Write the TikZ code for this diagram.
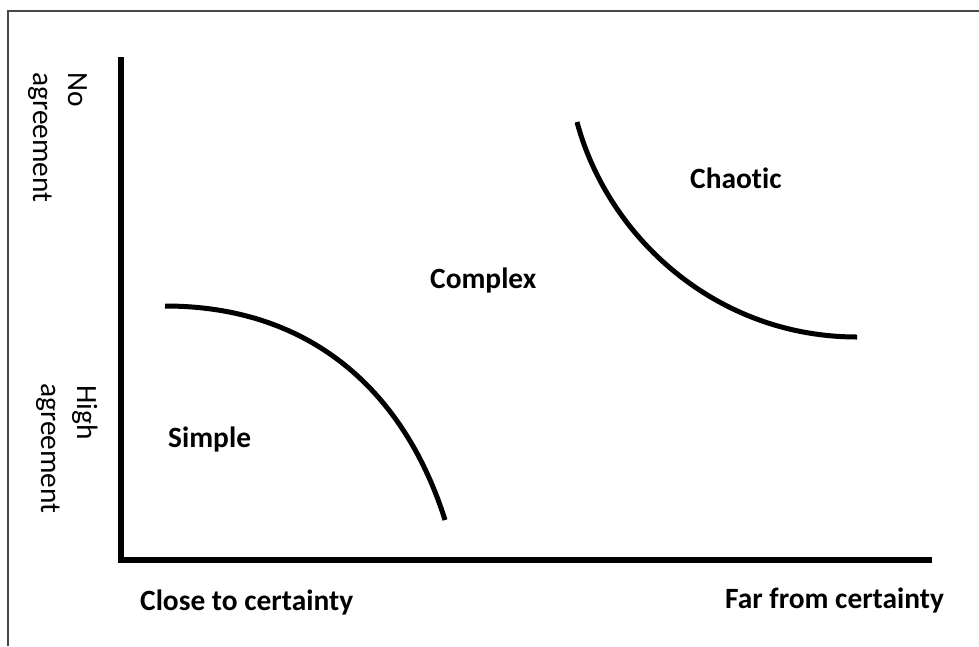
\documentclass[tikz,border=0pt]{standalone}
\usepackage{fontspec}
\setmainfont{Carlito}[Ligatures=NoCommon]
\begin{document}
\begin{tikzpicture}[x=1pt,y=-1pt,
  frameline/.style={draw=black!72,line width=2.2pt},
  axisline/.style={draw=black,line width=6.5pt},
  boundary/.style={draw=black,line width=5pt},
  region/.style={font=\fontsize{29.4}{35}\selectfont\bfseries,anchor=base west,inner sep=0pt},
  axislabel/.style={font=\fontsize{29.4}{35}\selectfont,anchor=base west,inner sep=0pt,rotate=-90}]
  \useasboundingbox (0,0) rectangle (979,646);
  % open frame: left and top edges only
  \draw[frameline] (8,646) -- (8,11) -- (979,11);
  % axes
  \coordinate (ytop) at (121,57);
  \coordinate (origin) at (121,560);
  \coordinate (xend) at (932,560);
  \draw[axisline] (ytop) -- (origin) -- (xend);
  % boundary between simple and complex
  \coordinate (s0) at (165,306);
  \coordinate (s1) at (445,520);
  \draw[boundary] (s0) .. controls (315,306) and (406,396) .. (s1);
  % boundary between complex and chaotic
  \coordinate (c0) at (577,122);
  \coordinate (c1) at (857,337);
  \draw[boundary] (c0) .. controls (608,238) and (717,337) .. (c1);
  % region names
  \node[region] (simple) at (168,447) {Simple};
  \node[region] (complex) at (430,288) {Complex};
  \node[region] (chaotic) at (690,188) {Chaotic};
  % horizontal axis labels
  \node[region] (close) at (140,610) {Close to certainty};
  \node[region] (far) at (725,608) {Far from certainty};
  % vertical axis labels
  \node[axislabel] (no) at (68,72) {No};
  \node[axislabel] (agree1) at (33,72) {agreement};
  \node[axislabel] (high) at (77,385) {High};
  \node[axislabel] (agree2) at (41,383) {agreement};
\end{tikzpicture}
\end{document}
